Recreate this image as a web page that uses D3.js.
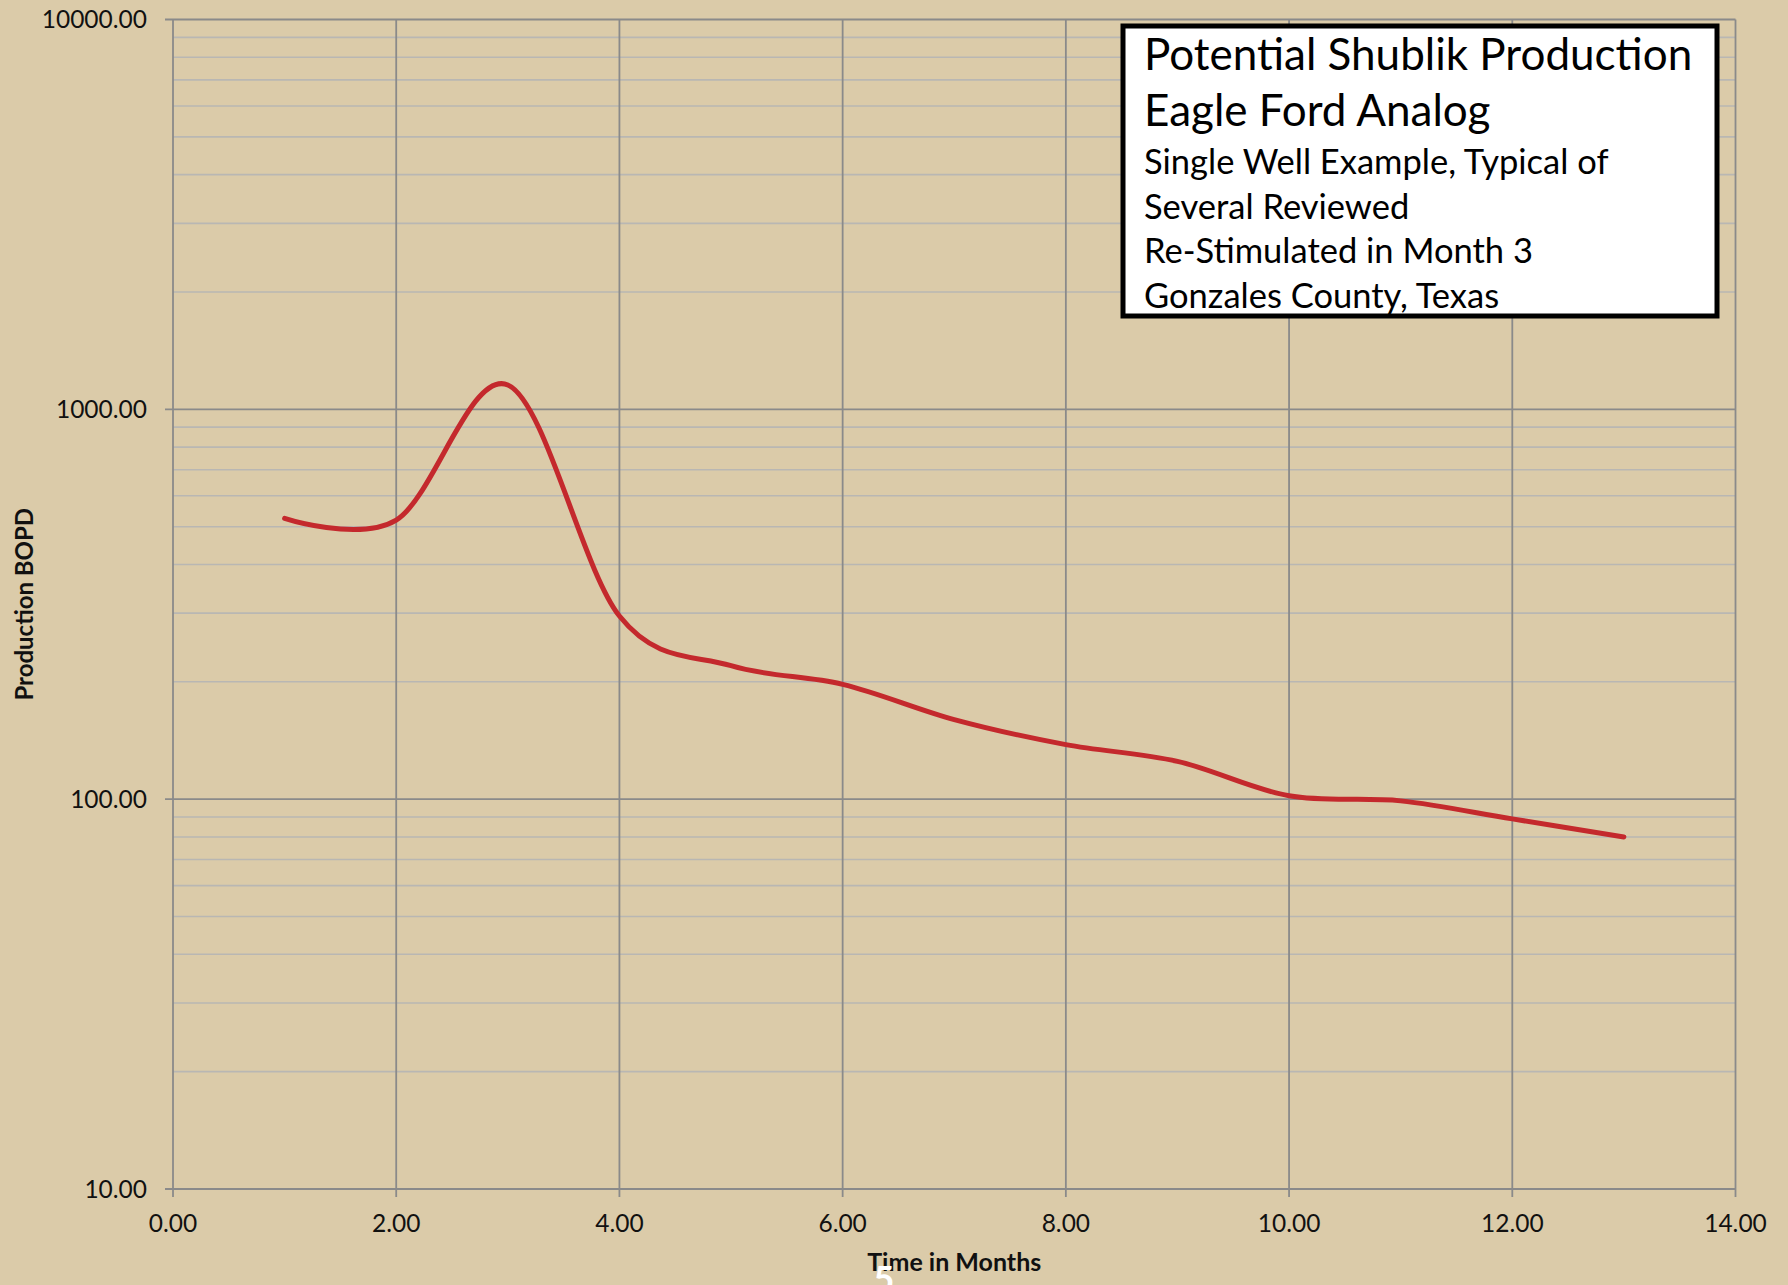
<!DOCTYPE html>
<html>
<head>
<meta charset="utf-8">
<script src="https://cdn.jsdelivr.net/npm/d3@7"></script>
<style>
  html, body { margin: 0; padding: 0; background: #dbcba9; }
  svg { display: block; }
  text { font-family: Lato, "Noto Sans", sans-serif; }
</style>
</head>
<body>
<div id="chart"></div>
<script>
// monthly production, barrels of oil per day
var months = [1, 2, 3, 4, 5, 6, 7, 8, 9, 10, 11, 12, 13];
var bopd = [525, 520, 1155, 295, 220, 197, 160, 138, 125, 102, 99, 89, 80];

var xTicks = [0, 2, 4, 6, 8, 10, 12, 14];
var yMajor = [10, 100, 1000, 10000];

var boxLinesBig = ["Potential Shublik Production", "Eagle Ford Analog"];
var boxLinesSmall = ["Single Well Example, Typical of", "Several Reviewed",
                     "Re-Stimulated in Month 3", "Gonzales County, Texas"];

var width = 1788, height = 1285;
var margin = {top: 19.5, right: 52.5, bottom: 96, left: 173};

var svg = d3.select("#chart")
    .append("svg")
    .attr("width", width)
    .attr("height", height);

svg.append("rect")
    .attr("width", width)
    .attr("height", height)
    .attr("fill", "#dbcba9");

var x = d3.scaleLinear()
    .domain([0, 14])
    .range([margin.left, width - margin.right]);

var y = d3.scaleLog()
    .domain([10, 10000])
    .range([height - margin.bottom, margin.top]);

// minor gridlines 2..9 in each decade
var minor = [];
[10, 100, 1000].forEach(function(d){
    for (var k = 2; k <= 9; k++) minor.push(d * k);
});

svg.append("g")
    .selectAll("line")
    .data(minor)
    .enter()
    .append("line")
    .attr("x1", x(0)).attr("x2", x(14))
    .attr("y1", function(d){ return y(d); })
    .attr("y2", function(d){ return y(d); })
    .attr("stroke", "#b9b7b3")
    .attr("stroke-width", 1.6);

// vertical gridlines
svg.append("g")
    .selectAll("line")
    .data(xTicks)
    .enter()
    .append("line")
    .attr("x1", function(d){ return x(d); })
    .attr("x2", function(d){ return x(d); })
    .attr("y1", y(10000)).attr("y2", y(10) + 8)
    .attr("stroke", "#8a8a8a")
    .attr("stroke-width", 1.8);

// major horizontal gridlines
svg.append("g")
    .selectAll("line")
    .data(yMajor)
    .enter()
    .append("line")
    .attr("x1", x(0) - 8).attr("x2", x(14))
    .attr("y1", function(d){ return y(d); })
    .attr("y2", function(d){ return y(d); })
    .attr("stroke", "#8a8a8a")
    .attr("stroke-width", 1.8);

// tick labels
svg.append("g")
    .selectAll("text")
    .data(yMajor)
    .enter()
    .append("text")
    .attr("x", 147)
    .attr("y", function(d){ return y(d); })
    .attr("dy", "0.35em")
    .attr("text-anchor", "end")
    .style("font-size", "24.5px")
    .attr("fill", "#111")
    .text(d3.format(".2f"));

svg.append("g")
    .selectAll("text")
    .data(xTicks)
    .enter()
    .append("text")
    .attr("x", function(d){ return x(d); })
    .attr("y", 1232)
    .attr("text-anchor", "middle")
    .style("font-size", "24.5px")
    .attr("fill", "#111")
    .text(d3.format(".2f"));

// axis titles
svg.append("text")
    .attr("x", (x(0) + x(14)) / 2)
    .attr("y", 1271)
    .attr("text-anchor", "middle")
    .style("font-size", "25px")
    .style("font-weight", "bold")
    .attr("fill", "#111")
    .text("Time in Months");

svg.append("text")
    .attr("transform", "translate(33," + ((y(10) + y(10000)) / 2) + ") rotate(-90)")
    .attr("text-anchor", "middle")
    .style("font-size", "24px")
    .style("font-weight", "bold")
    .attr("fill", "#111")
    .text("Production BOPD");

// the production curve
var line = d3.line()
    .x(function(d, i){ return x(months[i]); })
    .y(function(d){ return y(d); })
    .curve(d3.curveCardinal.tension(0));

svg.append("path")
    .datum(bopd)
    .attr("d", line)
    .attr("fill", "none")
    .attr("stroke", "#c4292d")
    .attr("stroke-width", 5)
    .attr("stroke-linecap", "round");

// annotation box
var box = svg.append("g");
box.append("rect")
    .attr("x", 1123).attr("y", 26)
    .attr("width", 594).attr("height", 290)
    .attr("fill", "#fff")
    .attr("stroke", "#000")
    .attr("stroke-width", 5);

box.selectAll("text.big")
    .data(boxLinesBig)
    .enter()
    .append("text")
    .attr("class", "big")
    .attr("x", 1144)
    .attr("y", function(d, i){ return 70 + i * 56; })
    .style("font-size", "44px")
    .attr("fill", "#000")
    .text(function(d){ return d; });

box.selectAll("text.small")
    .data(boxLinesSmall)
    .enter()
    .append("text")
    .attr("class", "small")
    .attr("x", 1144)
    .attr("y", function(d, i){ return 174 + i * 44.5; })
    .style("font-size", "34.5px")
    .attr("fill", "#000")
    .text(function(d){ return d; });

// slide number
svg.append("text")
    .attr("x", 884)
    .attr("y", 1292)
    .attr("text-anchor", "middle")
    .style("font-size", "36px")
    .style("font-weight", "bold")
    .attr("fill", "#fff")
    .text("5");
</script>
</body>
</html>
